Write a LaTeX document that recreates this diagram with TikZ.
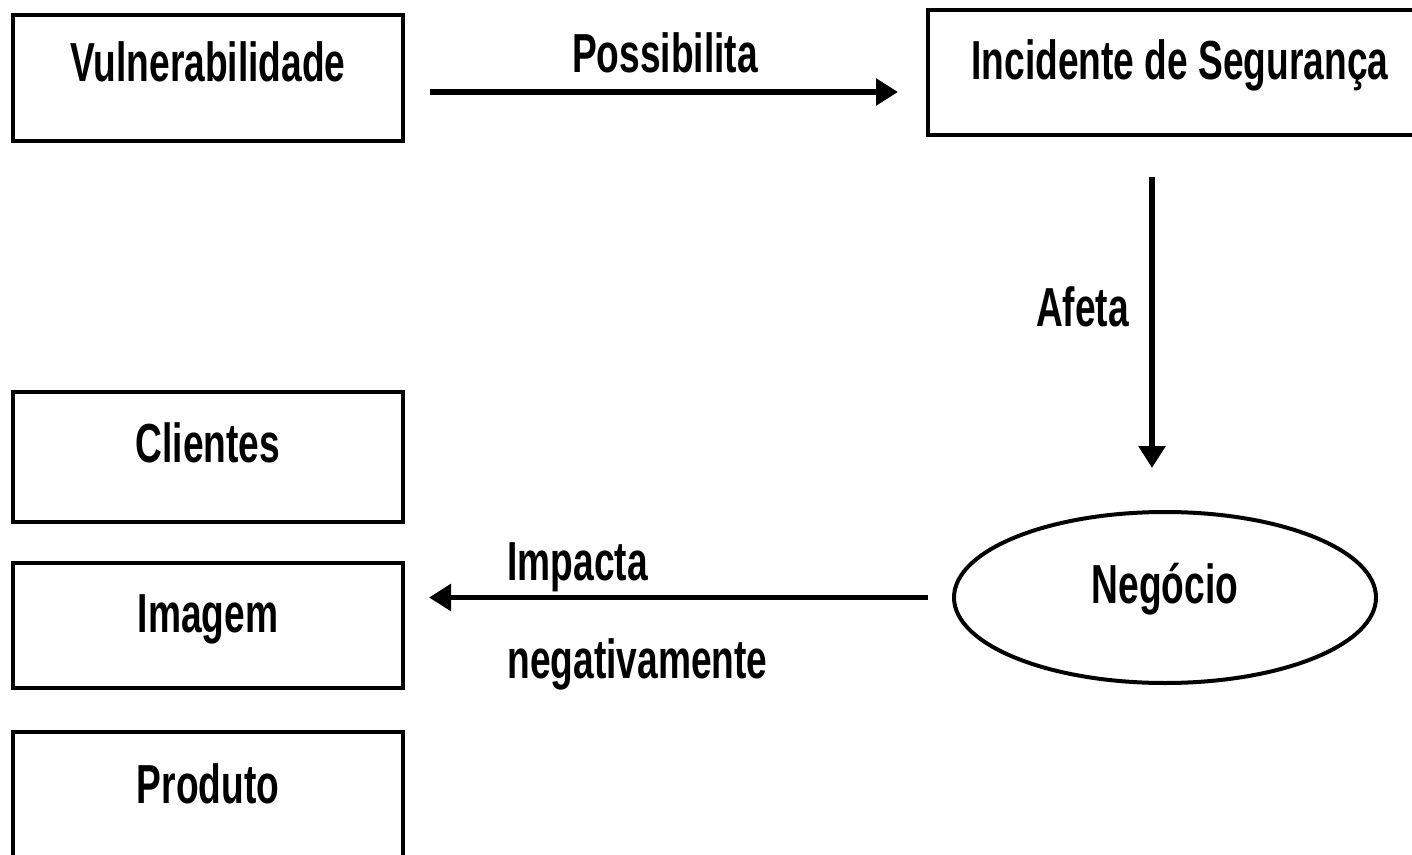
\documentclass[tikz,border=0pt]{standalone}
\usepackage{fontspec}
\setmainfont{Liberation Sans}[FakeStretch=0.675,
  UprightFont=*-Bold, BoldFont=*-Bold]
\usetikzlibrary{arrows.meta,shapes.geometric,calc}

\tikzset{
  box/.style={draw, line width=2pt, rectangle, inner sep=0pt,
              minimum width=195pt, align=center},
  oval/.style={draw, line width=2pt, ellipse, inner sep=0pt,
               minimum width=211pt, minimum height=85.5pt},
  flow/.style={line width=2.8pt, -{Triangle[length=11pt,width=13pt]}},
  lbl/.style={inner sep=0pt}
}

\begin{document}
\begin{tikzpicture}[x=0.5pt,y=-0.5pt,
  every node/.append style={font=\fontsize{27.5pt}{31pt}\selectfont}]
  \useasboundingbox (0,0) rectangle (1412,855);
  \clip (0,0) rectangle (1412,855);
  \fill[white] (0,0) rectangle (1412,855);

  % boxes (text height/depth place the baseline inside each box)
  \node[box, text height=33.5pt, text depth=29.5pt] (vul) at (208,78) {Vulnerabilidade};
  \node[box, minimum width=252pt, text height=35pt, text depth=27.5pt] (inc) at (1180,72.5) {Incidente de Segurança};
  \node[box, text height=35pt, text depth=30pt] (cli) at (208,457) {Clientes};
  \node[box, text height=34.5pt, text depth=28pt] (img) at (208,625.5) {Imagem};
  \node[box, text height=35.5pt, text depth=28.5pt] (pro) at (208,796) {Produto};

  % business ellipse
  \node[oval, text height=20pt, text depth=14.5pt] (neg) at (1165,597.5) {Negócio};

  % connectors
  \draw[flow] ($(vul.east)+(25,14)$) -- ($(inc.west)+(-28,19.5)$);
  \draw[flow] ($(inc.south)+(-28,40)$) -- ($(neg.north)+(-13,-42)$);
  \draw[flow] ($(neg.west)+(-24,0)$) -- ($(img.east |- neg.west)+(24,0)$);

  % connector labels
  \node[lbl, anchor=base] (lpos) at (665,73) {Possibilita};
  \node[lbl, anchor=base] (lafe) at (1082.5,327) {Afeta};
  \node[lbl, anchor=base west] (limp) at (507,580) {Impacta};
  \node[lbl, anchor=base west] (lneg) at (507,678) {negativamente};
\end{tikzpicture}
\end{document}
